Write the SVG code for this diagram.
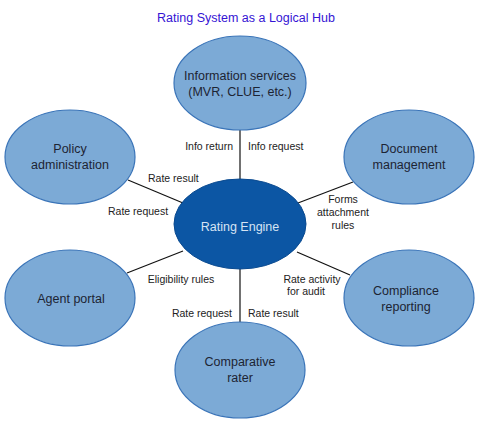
<svg xmlns="http://www.w3.org/2000/svg" width="486" height="428" viewBox="0 0 486 428">
<style>
.node{fill:#7caad6;stroke:#3a74b8;stroke-width:1.2}
.hub{fill:#0c56a4;stroke:#0a4a90;stroke-width:1}
.nt{font-family:"Liberation Sans",Arial,sans-serif;font-size:12.5px;fill:#1c2433;text-anchor:middle}
.ht{font-family:"Liberation Sans",Arial,sans-serif;font-size:12.5px;fill:#d6e4f4;text-anchor:middle}
.lb{font-family:"Liberation Sans",Arial,sans-serif;font-size:10.5px;fill:#222}
.title{font-family:"Liberation Sans",Arial,sans-serif;font-size:12.5px;fill:#3514d4;text-anchor:middle}
.cn{stroke:#111;stroke-width:1.2;fill:none}
</style>
<rect width="486" height="428" fill="#fff"/>
<text class="title" x="246" y="22">Rating System as a Logical Hub</text>
<g id="connectors">
<line class="cn" x1="240" y1="130" x2="240" y2="179"/>
<line class="cn" x1="240" y1="268" x2="240" y2="322"/>
<line class="cn" x1="128" y1="180" x2="183" y2="203"/>
<line class="cn" x1="298" y1="203" x2="353" y2="182"/>
<line class="cn" x1="127" y1="273" x2="183" y2="251"/>
<line class="cn" x1="297" y1="252" x2="350" y2="275"/>
<text class="lb" x="233" y="150" text-anchor="end">Info return</text>
<text class="lb" x="248" y="150">Info request</text>
<text class="lb" x="148" y="182">Rate result</text>
<text class="lb" x="108" y="215">Rate request</text>
<text class="lb" x="343" y="203" text-anchor="middle">Forms</text>
<text class="lb" x="343" y="216" text-anchor="middle">attachment</text>
<text class="lb" x="343" y="229" text-anchor="middle">rules</text>
<text class="lb" x="181" y="283" text-anchor="middle">Eligibility rules</text>
<text class="lb" x="312" y="283" text-anchor="middle">Rate activity</text>
<text class="lb" x="306" y="295" text-anchor="middle">for audit</text>
<text class="lb" x="232" y="317" text-anchor="end">Rate request</text>
<text class="lb" x="248" y="317">Rate result</text>
</g>
<g id="info-services">
<ellipse class="node" cx="240" cy="83" rx="66" ry="47"/>
<text class="nt" x="240" y="80">Information services</text>
<text class="nt" x="240" y="96">(MVR, CLUE, etc.)</text>
</g>
<g id="policy-admin">
<ellipse class="node" cx="70" cy="157" rx="65" ry="47"/>
<text class="nt" x="70" y="153">Policy</text>
<text class="nt" x="70" y="169">administration</text>
</g>
<g id="document-mgmt">
<ellipse class="node" cx="409" cy="157" rx="65" ry="47"/>
<text class="nt" x="409" y="153">Document</text>
<text class="nt" x="409" y="169">management</text>
</g>
<g id="rating-engine">
<ellipse class="hub" cx="240" cy="224" rx="66" ry="45"/>
<text class="ht" x="240" y="231">Rating Engine</text>
</g>
<g id="agent-portal">
<ellipse class="node" cx="70" cy="298" rx="65" ry="48"/>
<text class="nt" x="71" y="303">Agent portal</text>
</g>
<g id="compliance">
<ellipse class="node" cx="409" cy="298" rx="65" ry="48"/>
<text class="nt" x="406" y="295">Compliance</text>
<text class="nt" x="406" y="311">reporting</text>
</g>
<g id="comparative-rater">
<ellipse class="node" cx="240" cy="370" rx="65" ry="48"/>
<text class="nt" x="240" y="366">Comparative</text>
<text class="nt" x="240" y="382">rater</text>
</g>
</svg>
